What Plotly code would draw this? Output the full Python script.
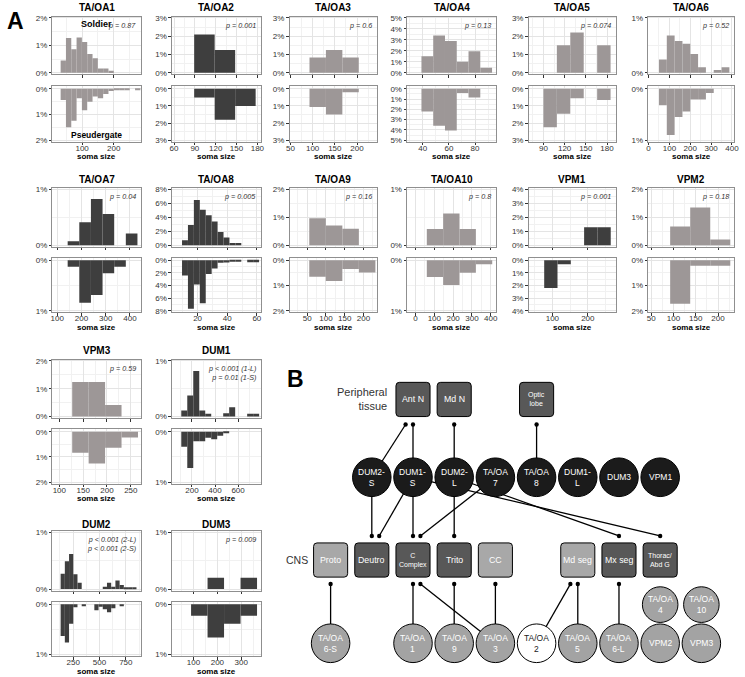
import plotly.graph_objects as go

W, H = 745, 677

# ---- panel A data (percent of cells per soma-size bin) ----
panel_names = ["TA/OA1", "TA/OA2", "TA/OA3", "TA/OA4", "TA/OA5", "TA/OA6",
               "TA/OA7", "TA/OA8", "TA/OA9", "TA/OA10", "VPM1", "VPM2",
               "VPM3", "DUM1", "DUM2", "DUM3"]
signif = [False, True, False, False, False, False,
          True, True, False, False, True, False,
          False, True, True, True]
p_text = ["p = 0.87", "p = 0.001", "p = 0.6", "p = 0.13", "p = 0.074", "p = 0.52",
          "p = 0.04", "p = 0.005", "p = 0.16", "p = 0.8", "p = 0.001", "p = 0.18",
          "p = 0.59", "p < 0.001 (1-L)<br>p = 0.01 (1-S)",
          "p < 0.001 (2-L)<br>p < 0.001 (2-S)", "p = 0.009"]
bin_lo = [32, 89, 93, 39, 90, 50, 143, 9.5, 55.6, 60, 77, 92.5, 127, 107, 131, 90]
bin_w = [16.8, 29.5, 37, 9, 19, 37.5, 48, 4, 44, 87, 37.5, 45, 34.5, 52, 40, 69]

oa1_sol = [0.45, 1.27, 0.86, 1.29, 1.12, 0.68, 0.53, 0.15, 0.15, 0.07, 0, 0, 0, 0, 0]
oa1_pse = [0.43, 1.5, 1.24, 0.37, 0.83, 0.5, 0.3, 0.37, 0.2, 0.08, 0.04, 0.04, 0.04, 0, 0.04]
oa2_sol = [2.1, 1.25, 0]
oa2_pse = [0.5, 1.8, 1.0]
oa3_sol = [0.84, 1.25, 0.84]
oa3_pse = [1.06, 1.5, 0.2]
oa4_sol = [1.5, 3.4, 2.9, 1.0, 1.95, 0.45]
oa4_pse = [2.2, 3.6, 4.05, 0.4, 0.85, 0]
oa5_sol = [0, 1.5, 2.2, 0, 1.5]
oa5_pse = [2.25, 1.45, 0.55, 0, 0.65]
oa6_sol = [0.24, 0.68, 0.58, 0.53, 0.34, 0.1, 0, 0.05, 0.1]
oa6_pse = [0.32, 0.9, 0.55, 0.44, 0.21, 0.21, 0.08, 0, 0]
oa7_sol = [0.07, 0.41, 0.83, 0.56, 0, 0.21]
oa7_pse = [0.13, 0.84, 0.69, 0.26, 0.13, 0]
oa8_sol = [0.7, 2.9, 6.5, 5.1, 4.3, 3.4, 1.9, 1.1, 0.3, 0.3, 0, 0, 0]
oa8_pse = [2.4, 7.7, 3.85, 6.8, 2.2, 1.3, 0.4, 0.35, 0.15, 0.2, 0, 0.3, 0.3]
oa9_sol = [0.97, 0.71, 0.59, 0]
oa9_pse = [0.65, 0.82, 0.35, 0.49]
oa10_sol = [0.29, 0.57, 0.29, 0]
oa10_pse = [0.33, 0.49, 0.25, 0.08]
vpm1_sol = [0, 0, 0, 1.28, 1.28]
vpm1_pse = [2.2, 0.32, 0, 0, 0]
vpm2_sol = [0.67, 1.35, 0.2]
vpm2_pse = [1.72, 0.22, 0.22]
vpm3_sol = [1.24, 1.24, 0.42, 0]
vpm3_pse = [0.83, 1.26, 0.64, 0.23]
dum1_sol = [0.11, 0.38, 0.82, 0.11, 0.05, 0, 0, 0.06, 0.17, 0, 0, 0.05, 0.05]
dum1_pse = [0.3, 0.72, 0.19, 0.19, 0.12, 0.15, 0.08, 0.03, 0, 0, 0, 0, 0]
dum2_sol = [0.27, 0.49, 0.62, 0.26, 0.11, 0, 0, 0, 0, 0, 0.04, 0.11, 0.04, 0.15, 0.07, 0.03, 0.03, 0.03]
dum2_pse = [0.63, 0.76, 0.39, 0.06, 0, 0.04, 0, 0, 0.12, 0.05, 0.1, 0.16, 0.08, 0, 0.04, 0, 0, 0]
dum3_sol = [0, 0.2, 0, 0.2]
dum3_pse = [0.23, 0.66, 0.39, 0.23]

soldier_pct = [oa1_sol, oa2_sol, oa3_sol, oa4_sol, oa5_sol, oa6_sol, oa7_sol, oa8_sol,
               oa9_sol, oa10_sol, vpm1_sol, vpm2_sol, vpm3_sol, dum1_sol, dum2_sol, dum3_sol]
pseud_pct = [oa1_pse, oa2_pse, oa3_pse, oa4_pse, oa5_pse, oa6_pse, oa7_pse, oa8_pse,
             oa9_pse, oa10_pse, vpm1_pse, vpm2_pse, vpm3_pse, dum1_pse, dum2_pse, dum3_pse]

# axis scales per panel
x_range = [(6, 287), (57, 185), (48, 246), (28, 96), (69, 192), (-2, 410),
           (80, 447), (2.7, 62.7), (3, 237), (-45, 428), (33, 278), (43, 236),
           (85.5, 272), (26, 798), (53, 897), (10, 382)]
x_step = [100, 30, 50, 20, 30, 100, 100, 20, 50, 100, 100, 50, 50, 200, 250, 100]
y_max = [2, 3, 3, 5, 3, 1, 1, 8, 2, 1, 4, 2, 2, 1, 1, 1]

# ---- panel B data ----
top_cells = ["DUM2-<br>S", "DUM1-<br>S", "DUM2-<br>L", "TA/OA<br>7", "TA/OA<br>8",
             "DUM1-<br>L", "DUM3", "VPM1"]
top_cols = [1, 2, 3, 4, 5, 6, 7, 8]
periph_tissue = ["Ant N", "Md N", "Optic<br>lobe"]
periph_cols = [2, 3, 5]
cns_regions = ["Proto", "Deutro", "C<br>Complex", "Trito", "CC", "Md seg", "Mx seg",
               "Thorac/<br>Abd G"]
cns_cols = [0, 1, 2, 3, 4, 6, 7, 8]
cns_dark = [False, True, True, True, False, False, True, True]
low_cells = ["TA/OA<br>6-S", "TA/OA<br>1", "TA/OA<br>9", "TA/OA<br>3", "TA/OA<br>2",
             "TA/OA<br>5", "TA/OA<br>6-L", "VPM2", "VPM3"]
low_cols = [0, 2, 3, 4, 5, 6, 7, 8, 9]
mid_cells = ["TA/OA<br>4", "TA/OA<br>10"]
mid_cols = [8, 9]
# (cell index, target index, dot slot)
periph_links = [(0, 0, -1), (1, 0, 0), (2, 1, 0), (4, 2, 0)]
cns_in_links = [(0, 1, 0), (1, 1, 1), (1, 2, 0), (3, 2, 1), (2, 3, 0), (2, 6, 0), (1, 7, 0)]
cns_out_links = [(0, 0, 0), (1, 2, 0), (3, 2, 1), (2, 3, 0), (3, 4, 0), (4, 5, -1),
                 (5, 5, 0), (6, 6, 0)]

DARK = "#3e3e3e"
GRAY = "#9d9797"
FONT = "Liberation Sans, Arial, sans-serif"


def px(x):
    return x / W


def py(y):
    return 1 - y / H


col_x0 = [49, 170, 289, 408, 531, 652]
col_x1 = [139, 260, 378, 498, 619, 739]
row_top = [(14, 72), (187, 246), (360, 419), (533, 593)]
row_bot = [(84, 140), (257, 312), (430, 485), (604, 659)]
row_title = [5, 178, 351, 526]

fig = go.Figure()
layout = {}
annos = []
shapes = []


def note(x, y, text, size, color="black", **kw):
    d = dict(x=px(x), y=py(y), xref="paper", yref="paper", text=text, showarrow=False,
             font=dict(size=size, color=color, family=FONT), xanchor="center",
             yanchor="middle")
    d.update(kw)
    annos.append(d)


def ax_base():
    return dict(showgrid=True, gridcolor="#e4e4e4", gridwidth=0.8, zeroline=False,
                showline=True, linecolor="#8f8f8f", linewidth=1, mirror=True,
                ticks="outside", ticklen=2.5, tickwidth=0.8, tickcolor="#333",
                tickfont=dict(size=8, color="#333", family=FONT), fixedrange=True)


for i, name in enumerate(panel_names):
    if i < 12:
        r, c = i // 6, i % 6
    else:
        r, c = 2 + (i - 12) // 2, (i - 12) % 2
    x0, x1 = col_x0[c], col_x1[c]
    color = DARK if signif[i] else GRAY
    m = y_max[i]
    ystep = 2 if m >= 8 else 1
    for part, (ya, yb) in enumerate([row_top[r], row_bot[r]]):
        n = 2 * i + 1 + part
        xn = "x" if n == 1 else f"x{n}"
        yn = "y" if n == 1 else f"y{n}"
        vals = soldier_pct[i] if part == 0 else pseud_pct[i]
        centers = [bin_lo[i] + bin_w[i] * (k + 0.5) for k in range(len(vals))]
        fig.add_trace(go.Bar(x=centers, y=vals, width=bin_w[i], marker_color=color,
                             marker_line_width=0, xaxis=xn, yaxis=yn,
                             hoverinfo="skip", showlegend=False))
        xa = ax_base()
        xa.update(domain=[px(x0), px(x1)], range=list(x_range[i]), anchor=yn,
                  tickmode="linear", tick0=0, dtick=x_step[i],
                  minor=dict(showgrid=True, gridcolor="#f1f1f1", gridwidth=0.6,
                             tick0=0, dtick=x_step[i] / 2),
                  showticklabels=(part == 1), ticklabelstandoff=-4)
        ya_ = ax_base()
        rng = [-0.03 * m, 1.02 * m] if part == 0 else [1.03 * m, -0.05 * m]
        ya_.update(domain=[py(yb), py(ya)], range=rng, anchor=xn,
                   tickmode="linear", tick0=0, dtick=ystep, ticksuffix="%",
                   minor=dict(showgrid=True, gridcolor="#f1f1f1", gridwidth=0.6,
                              tick0=0, dtick=ystep / 2))
        layout["xaxis" if n == 1 else f"xaxis{n}"] = xa
        layout["yaxis" if n == 1 else f"yaxis{n}"] = ya_

    mid = (x0 + x1) / 2
    note(mid, row_title[r], f"<b>{name}</b>", 10)
    note(x1 - 3, row_top[r][0] + 2, f"<i>{p_text[i]}</i>", 7.2, "#333",
         xanchor="right", yanchor="top", align="right")
    note(mid, row_bot[r][1] + 15, "<b>soma size</b>", 8)

note((col_x0[0] + col_x1[0]) / 2, 21, "<b>Soldier</b>", 9)
note((col_x0[0] + col_x1[0]) / 2, 133, "<b>Pseudergate</b>", 8.5)
note(1, 3, "<b>A</b>", 23, xanchor="left", yanchor="top")

# ---- panel B: schematic ----
COL0, DCOL = 330.6, 41.7
Y_PER, Y_TOP, Y_CNS, Y_MID, Y_LOW = 400, 478.5, 562, 607, 646
BOX, RAD, CR = 34.5, 3.5, 19.5
SLOT = 7.5


def colx(cidx):
    return COL0 + DCOL * cidx


def rrect(cx, cy, w, h, r):
    a, b = cx - w / 2, cx + w / 2
    t, u = cy - h / 2, cy + h / 2
    return (f"M {px(a + r)},{py(t)} L {px(b - r)},{py(t)} Q {px(b)},{py(t)} {px(b)},{py(t + r)} "
            f"L {px(b)},{py(u - r)} Q {px(b)},{py(u)} {px(b - r)},{py(u)} "
            f"L {px(a + r)},{py(u)} Q {px(a)},{py(u)} {px(a)},{py(u - r)} "
            f"L {px(a)},{py(t + r)} Q {px(a)},{py(t)} {px(a + r)},{py(t)} Z")


def line(xa, ya, xb, yb):
    shapes.append(dict(type="line", xref="paper", yref="paper", x0=px(xa), y0=py(ya),
                       x1=px(xb), y1=py(yb), line=dict(color="black", width=1.3)))


def dot(x, y):
    rr = 2.2
    shapes.append(dict(type="circle", xref="paper", yref="paper", x0=px(x - rr), x1=px(x + rr),
                       y0=py(y + rr), y1=py(y - rr), fillcolor="black", line=dict(width=0)))


def circle(x, y, r, fill):
    shapes.append(dict(type="circle", xref="paper", yref="paper", x0=px(x - r), x1=px(x + r),
                       y0=py(y + r), y1=py(y - r), fillcolor=fill,
                       line=dict(color="black", width=1)))


dot_per = Y_PER + BOX / 2 + 8
dot_cin = Y_CNS - BOX / 2 - 7
dot_cout = Y_CNS + BOX / 2 + 7

for ci, ti, s in periph_links:
    xs, xt = colx(top_cols[ci]), colx(periph_cols[ti]) + s * SLOT
    line(xs, Y_TOP, xt, dot_per)
    dot(xt, dot_per)
for ci, ti, s in cns_in_links:
    xs, xt = colx(top_cols[ci]), colx(cns_cols[ti]) + s * SLOT
    line(xs, Y_TOP, xt, dot_cin)
    dot(xt, dot_cin)
for ci, ti, s in cns_out_links:
    xs, xt = colx(low_cols[ci]), colx(cns_cols[ti]) + s * SLOT
    line(xs, Y_LOW, xt, dot_cout)
    dot(xt, dot_cout)

for k, t in enumerate(periph_tissue):
    x = colx(periph_cols[k])
    shapes.append(dict(type="path", xref="paper", yref="paper", path=rrect(x, Y_PER, BOX, BOX, RAD),
                       fillcolor="#585858", line=dict(color="black", width=1)))
    note(x, Y_PER, t, 7 if "<br>" in t else 8.8, "white")
for k, t in enumerate(cns_regions):
    x = colx(cns_cols[k])
    shapes.append(dict(type="path", xref="paper", yref="paper", path=rrect(x, Y_CNS, BOX, BOX, RAD),
                       fillcolor="#585858" if cns_dark[k] else "#a8a8a8",
                       line=dict(color="black", width=1)))
    note(x, Y_CNS, t, 7 if "<br>" in t else 8.8, "white")
for k, t in enumerate(top_cells):
    x = colx(top_cols[k])
    circle(x, Y_TOP, CR, "#1b1b1b")
    note(x, Y_TOP, t, 8.5, "white")
for k, t in enumerate(low_cells):
    x = colx(low_cols[k])
    white = t.endswith(">2")
    circle(x, Y_LOW, CR, "white" if white else "#a3a3a3")
    note(x, Y_LOW, t, 8.5, "#222" if white else "white")
for k, t in enumerate(mid_cells):
    x = colx(mid_cols[k])
    circle(x, Y_MID, 18, "#a3a3a3")
    note(x, Y_MID, t, 8.5, "white")

note(390, 400, "Peripheral<br>tissue", 11, "#333", xanchor="right", align="right")
note(297, Y_CNS, "CNS", 10.5, "#333")
note(284, 364, "<b>B</b>", 23, xanchor="left", yanchor="top")

fig.update_layout(width=W, height=H, margin=dict(l=0, r=0, t=0, b=0),
                  paper_bgcolor="white", plot_bgcolor="white", showlegend=False,
                  font=dict(family=FONT), barmode="overlay",
                  annotations=annos, shapes=shapes, **layout)
fig.write_html("out.html", config={"displayModeBar": False},
               post_script="document.body.style.margin='0';")
